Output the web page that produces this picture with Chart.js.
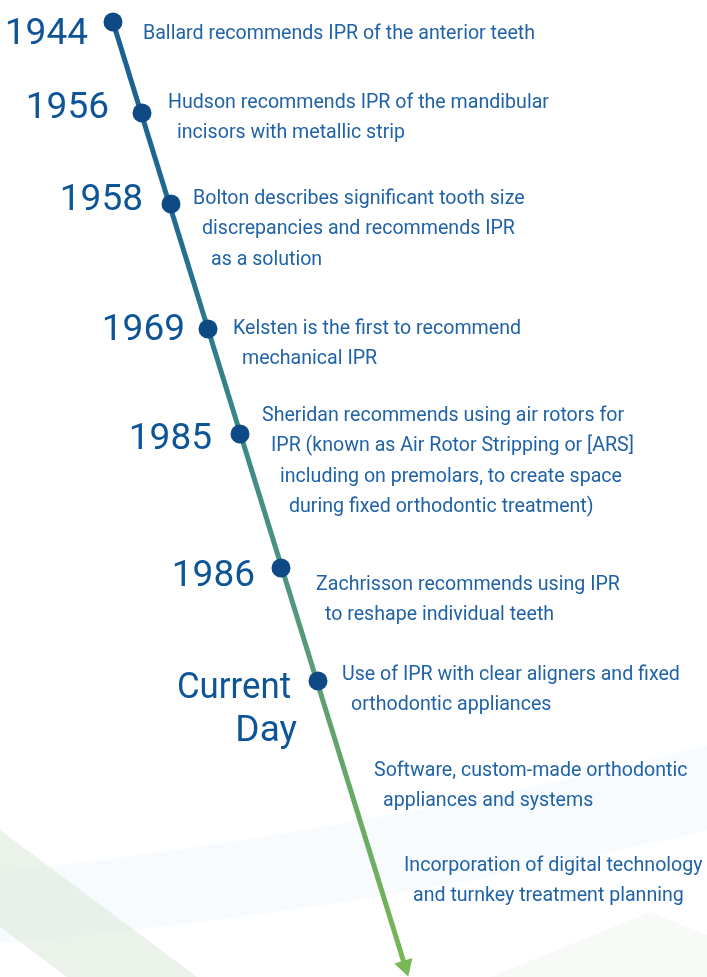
<!DOCTYPE html>
<html>
<head>
<meta charset="utf-8">
<script src="https://cdn.jsdelivr.net/npm/chart.js@4.4.0/dist/chart.umd.min.js"></script>
<style>
  html, body { margin: 0; padding: 0; background: #fff; }
  #wrap { width: 707px; height: 977px; }
</style>
</head>
<body>
<div id="wrap"><canvas id="timeline"></canvas></div>
<script>
// events on the timeline
var years = ['1944', '1956', '1958', '1969', '1985', '1986', ['Current', 'Day']];
var eventX = [113, 142, 171, 208, 240, 281, 318];
var eventY = [22, 113, 204, 329, 434, 568, 681];

// axis line: start and arrow tip
var axisX = [113, 405];
var axisY = [22, 966];

var notes = [
    ['Ballard recommends IPR of the anterior teeth'],
    ['Hudson recommends IPR of the mandibular', 'incisors with metallic strip'],
    ['Bolton describes significant tooth size', 'discrepancies and recommends IPR', 'as a solution'],
    ['Kelsten is the first to recommend', 'mechanical IPR'],
    ['Sheridan recommends using air rotors for', 'IPR (known as Air Rotor Stripping or [ARS]', 'including on premolars, to create space', 'during fixed orthodontic treatment)'],
    ['Zachrisson recommends using IPR', 'to reshape individual teeth'],
    ['Use of IPR with clear aligners and fixed', 'orthodontic appliances'],
    ['Software, custom-made orthodontic', 'appliances and systems'],
    ['Incorporation of digital technology', 'and turnkey treatment planning']
];
// where each note starts (first line)
var noteX = [143, 168, 193, 233, 262, 316, 342, 374, 404];
var noteY = [34, 103, 199, 329, 416, 585, 675, 771, 866];

var points = eventX.map(function (x, i) { return { x: x, y: eventY[i] }; });
var axisPts = axisX.map(function (x, i) { return { x: x, y: axisY[i] }; });

function lineGradient(context) {
    var chart = context.chart;
    var area = chart.chartArea;
    if (!area) return '#1b5f93';
    var ys = chart.scales.y;
    var g = chart.ctx.createLinearGradient(0, ys.getPixelForValue(axisY[0]), 0, ys.getPixelForValue(axisY[1]));
    g.addColorStop(0, '#1b5f93');
    g.addColorStop(0.2, '#216891');
    g.addColorStop(0.43, '#3a8887');
    g.addColorStop(0.58, '#4d9480');
    g.addColorStop(0.72, '#5f9f70');
    g.addColorStop(1, '#78b856');
    return g;
}

var backdrop = {
    id: 'backdrop',
    beforeDraw: function (chart) {
        var c = chart.ctx;
        c.save();
        c.fillStyle = '#ffffff';
        c.fillRect(0, 0, chart.width, chart.height);
        // faint blue swoosh
        c.fillStyle = 'rgba(236, 245, 249, 0.4)';
        c.beginPath();
        c.moveTo(0, 872);
        c.quadraticCurveTo(380, 830, 707, 745);
        c.lineTo(707, 830);
        c.quadraticCurveTo(380, 910, 0, 943);
        c.closePath();
        c.fill();
        // faint green band
        c.fillStyle = 'rgba(220, 234, 220, 0.6)';
        c.beginPath();
        c.moveTo(0, 830);
        c.lineTo(197, 977);
        c.lineTo(67, 977);
        c.lineTo(0, 927);
        c.closePath();
        c.fill();
        // faint green corner bottom right
        c.fillStyle = 'rgba(240, 246, 238, 0.5)';
        c.beginPath();
        c.moveTo(490, 977);
        c.lineTo(650, 912);
        c.lineTo(707, 935);
        c.lineTo(707, 977);
        c.closePath();
        c.fill();
        c.restore();
    }
};

var labelsPlugin = {
    id: 'labels',
    afterDatasetsDraw: function (chart) {
        var c = chart.ctx;
        var xs = chart.scales.x, ys = chart.scales.y;
        c.save();
        c.textBaseline = 'middle';
        // years
        c.fillStyle = '#0e5597';
        c.font = '37px Roboto, "Noto Sans", sans-serif';
        c.textAlign = 'right';
        var yearPos = [[88, 35], [109, 109], [143, 201], [185, 331], [212, 440], [255, 577], [291, 689]];
        years.forEach(function (y, i) {
            var lines = Array.isArray(y) ? y : [y];
            lines.forEach(function (t, j) {
                var px = xs.getPixelForValue(yearPos[i][0] + j * 6);
                var py = ys.getPixelForValue(yearPos[i][1] + j * 43);
                c.fillText(t, px, py, j === 0 && lines.length > 1 ? 114 : 200);
            });
        });
        // notes
        c.fillStyle = '#1f62a8';
        c.font = '19.6px Roboto, "Noto Sans", sans-serif';
        c.textAlign = 'left';
        notes.forEach(function (lines, i) {
            var y0 = noteY[i];
            var step = lines.length > 1 ? 30.5 : 0;
            lines.forEach(function (t, j) {
                var px = xs.getPixelForValue(noteX[i] + j * 9);
                var py = ys.getPixelForValue(y0 + j * step);
                c.fillText(t, px, py);
            });
        });
        c.restore();
    }
};

new Chart(document.getElementById('timeline'), {
    type: 'scatter',
    data: {
        datasets: [
            {
                label: 'events',
                data: points,
                pointRadius: 9.5,
                pointHoverRadius: 9.5,
                pointBackgroundColor: '#0e4a86',
                pointBorderWidth: 0,
                showLine: false,
                clip: false,
                order: 0
            },
            {
                label: 'axis',
                data: axisPts,
                showLine: true,
                borderColor: lineGradient,
                borderWidth: 5,
                pointRadius: [0, 11],
                pointStyle: 'triangle',
                pointRotation: 162.8,
                pointBackgroundColor: '#78b856',
                pointBorderWidth: 0,
                clip: false,
                order: 1
            }
        ]
    },
    options: {
        responsive: true,
        maintainAspectRatio: false,
        animation: false,
        layout: { padding: 0, autoPadding: false },
        plugins: {
            legend: { display: false },
            tooltip: { enabled: false },
            title: { display: false }
        },
        scales: {
            x: { type: 'linear', min: 0, max: 707, display: false },
            y: { type: 'linear', min: 0, max: 977, reverse: true, display: false }
        }
    },
    plugins: [backdrop, labelsPlugin]
});
</script>
</body>
</html>
